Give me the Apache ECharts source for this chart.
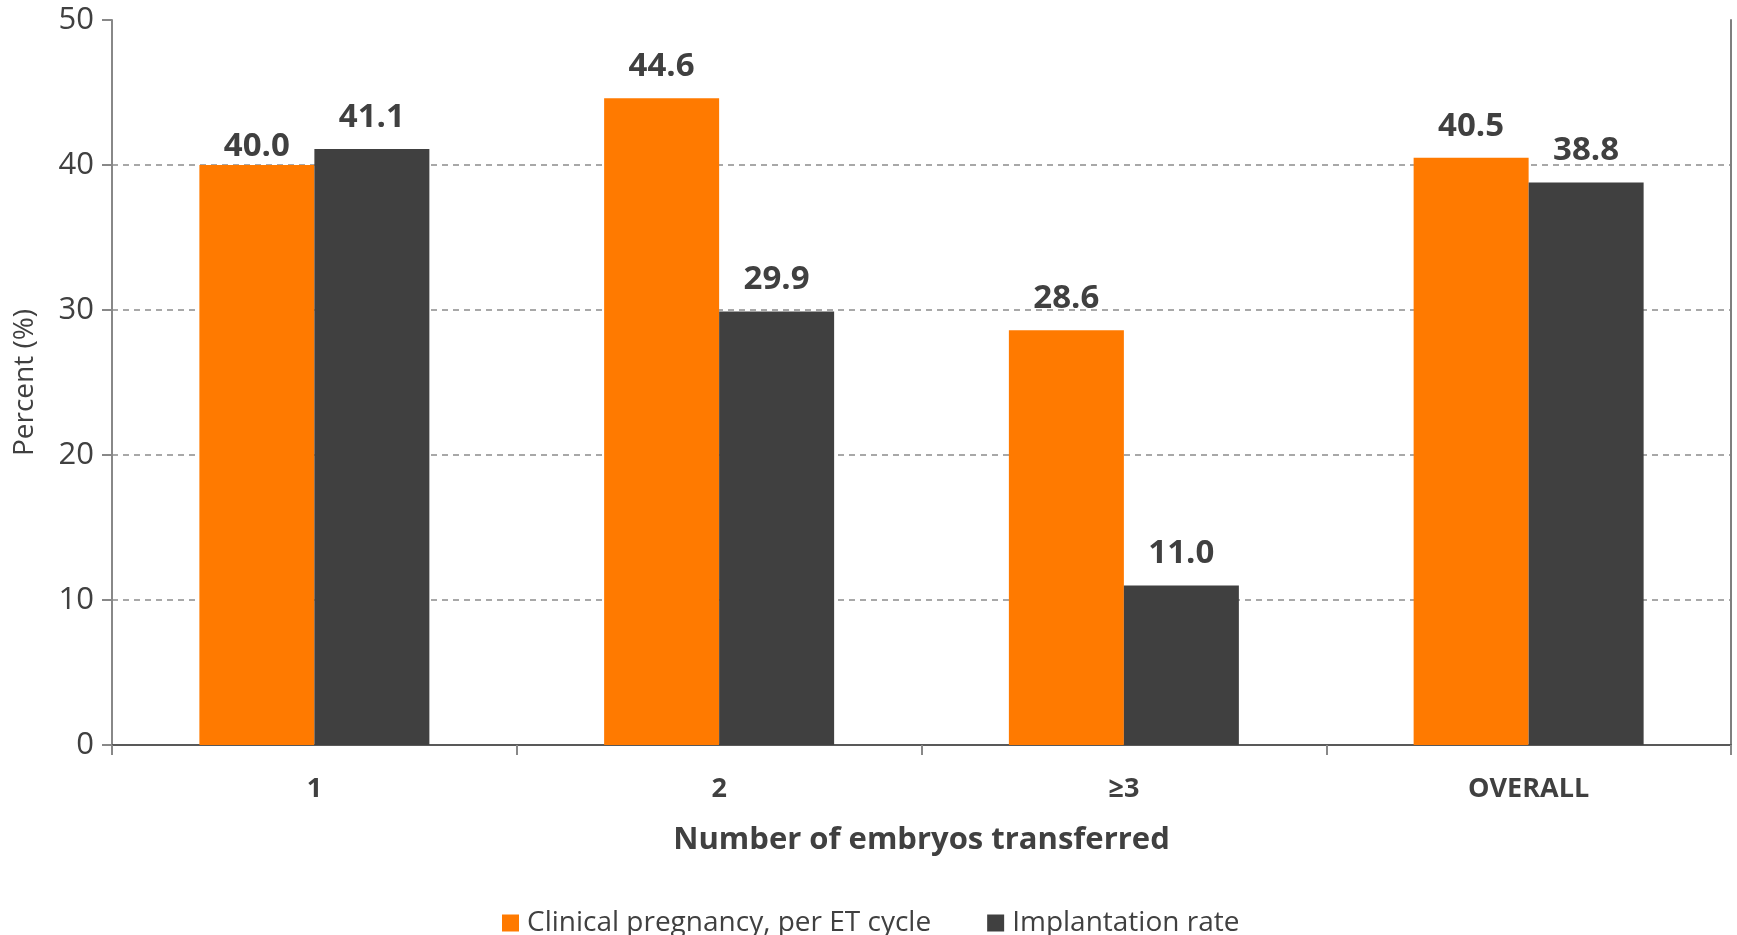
<!DOCTYPE html>
<html>
<head>
<meta charset="utf-8">
<script src="https://cdn.jsdelivr.net/npm/echarts@6/dist/echarts.min.js"></script>
<style>
html,body{margin:0;padding:0;background:#fff;}
#chart{width:1737px;height:935px;}
</style>
</head>
<body>
<div id="chart"></div>
<script>
const categories = ['1', '2', '\u22653', 'OVERALL'];
const seriesNames = ['Clinical pregnancy, per ET cycle', 'Implantation rate'];
const clinicalPregnancy = [40.0, 44.6, 28.6, 40.5];
const implantationRate = [41.1, 29.9, 11.0, 38.8];
const yTicks = [0, 10, 20, 30, 40, 50];

const FONT = '"Open Sans", sans-serif';
const TXT = '#404040';
const chart = echarts.init(document.getElementById('chart'), null, {renderer: 'canvas'});

const labelCfg = {
  show: true,
  position: 'top',
  distance: 15,
  color: TXT,
  fontFamily: FONT,
  fontWeight: 'bold',
  fontSize: 33,
  formatter: p => p.value.toFixed(1)
};

// first value's label sits closer to its bar in the reference
const clinicalData = clinicalPregnancy.map((v, i) =>
  i === 0 ? {value: v, label: {distance: 2}} : v);

chart.setOption({
  animation: false,
  backgroundColor: '#ffffff',
  grid: {left: 112, right: 6, top: 20, bottom: 190, containLabel: false},
  legend: {
    data: seriesNames,
    left: 497,
    top: 904,
    itemWidth: 17,
    itemHeight: 17,
    itemGap: 56,
    icon: 'rect',
    textStyle: {color: TXT, fontFamily: FONT, fontSize: 28, padding: [0, 0, 0, 3]}
  },
  xAxis: [{
    type: 'category',
    data: categories,
    name: 'Number of embryos transferred',
    nameLocation: 'middle',
    nameGap: 80,
    nameTextStyle: {color: TXT, fontFamily: FONT, fontWeight: 'bold', fontSize: 31},
    axisLine: {show: true, lineStyle: {color: '#888888', width: 2}},
    axisTick: {show: true, alignWithLabel: false, length: 10, lineStyle: {color: '#888888', width: 2}},
    axisLabel: {color: TXT, fontFamily: FONT, fontWeight: 'bold', fontSize: 27, margin: 31}
  }, {
    type: 'category',
    data: categories,
    position: 'top',
    axisLine: {show: true, lineStyle: {color: '#595959', width: 2}},
    axisTick: {show: false},
    axisLabel: {show: false}
  }],
  yAxis: [{
    type: 'value',
    min: 0,
    max: 50,
    interval: 10,
    name: 'Percent (%)',
    nameLocation: 'middle',
    nameGap: 73,
    nameTextStyle: {color: TXT, fontFamily: FONT, fontSize: 28},
    axisLine: {show: true, lineStyle: {color: '#888888', width: 2}},
    axisTick: {show: true, length: 10, lineStyle: {color: '#888888', width: 2}},
    axisLabel: {color: TXT, fontFamily: FONT, fontSize: 31, margin: 18,
      formatter: v => yTicks.includes(v) ? String(v) : ''},
    splitLine: {show: true, showMinLine: false, showMaxLine: false,
      lineStyle: {color: '#8c8c8c', type: [6, 5], width: 1.5}}
  }, {
    type: 'value',
    min: 0,
    max: 50,
    interval: 10,
    position: 'right',
    axisLine: {show: true, lineStyle: {color: '#7f7f7f', width: 2}},
    axisTick: {show: false},
    axisLabel: {show: false},
    splitLine: {show: false}
  }],
  series: [{
    name: seriesNames[0],
    type: 'bar',
    data: clinicalData,
    barWidth: 115,
    barGap: '0%',
    itemStyle: {color: '#FF7A00'},
    label: labelCfg
  }, {
    name: seriesNames[1],
    type: 'bar',
    data: implantationRate,
    barWidth: 115,
    barGap: '0%',
    itemStyle: {color: '#404040'},
    label: labelCfg
  }]
});
</script>
</body>
</html>
